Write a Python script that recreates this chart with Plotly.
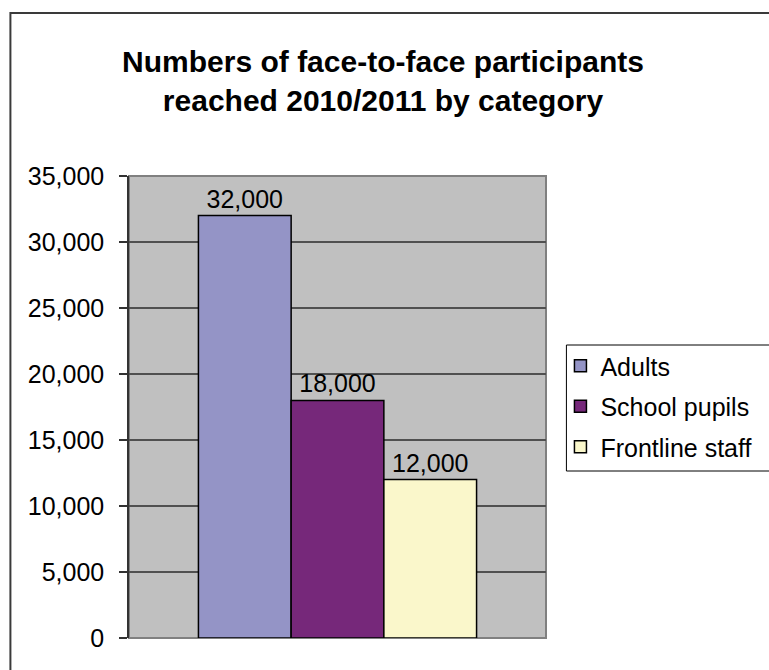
import plotly.graph_objects as go

# Data
categories = ["Adults", "School pupils", "Frontline staff"]
values = [32000, 18000, 12000]
colors = ["#9494C6", "#76287A", "#FAF7CB"]
group_label = ["2010/2011"]
y_ticks = [0, 5000, 10000, 15000, 20000, 25000, 30000, 35000]

W, H = 769, 670
L, R, T, B = 129, 211, 176, 32
pw, ph = W - L - R, H - T - B

fig = go.Figure()
for i, (name, v, c) in enumerate(zip(categories, values, colors)):
    fig.add_trace(go.Bar(
        x=group_label, y=[v], name=name,
        marker=dict(color=c, line=dict(color="black", width=1.5)),
        text=[v], texttemplate="%{y:,}", textposition="outside",
        textfont=dict(family="Liberation Sans, Arial", size=25, color="black"),
        cliponaxis=False, legendgroup=name,
    ))

def px_x(x):
    return (x - L) / pw

def px_y(y):
    return (H - B - y) / ph

fig.update_layout(
    width=W, height=H,
    margin=dict(l=L, r=R, t=T, b=B, pad=0),
    paper_bgcolor="white", plot_bgcolor="#C0C0C0",
    barmode="group", bargap=0.333, bargroupgap=0,
    font=dict(family="Liberation Sans, Arial", size=25, color="black"),
    title=dict(
        text="Numbers of face-to-face participants<br>reached 2010/2011 by category",
        font=dict(family="Liberation Sans, Arial", size=30, color="black", weight="bold"),
        x=383 / W, xanchor="center", xref="container",
        y=1 - 72 / H, yanchor="top", yref="container",
    ),
    legend=dict(
        x=px_x(578), y=px_y(343), xanchor="left", yanchor="top",
        bgcolor="rgba(0,0,0,0)", borderwidth=0,
        font=dict(family="Liberation Sans, Arial", size=25, color="black"),
        traceorder="grouped", tracegroupgap=5, indentation=-5,
    ),
    showlegend=True,
)
fig.update_xaxes(showticklabels=False, showgrid=False, zeroline=False,
                 showline=False, ticks="")
fig.update_yaxes(range=[0, 35000], tickvals=y_ticks, tickformat=",",
                 ticks="outside", ticklen=8, tickcolor="#333", tickwidth=1.5,
                 showline=True, linecolor="#333", linewidth=1.5,
                 showgrid=True, gridcolor="#505050", gridwidth=1.5,
                 zeroline=False, ticklabelstandoff=10,
                 tickfont=dict(family="Liberation Sans, Arial", size=25, color="black"))

# plot area border
fig.add_shape(type="rect", xref="paper", yref="paper", x0=0, x1=1, y0=0, y1=1,
              line=dict(color="#808080", width=2), fillcolor="rgba(0,0,0,0)",
              layer="between")
# legend box (extends past the right edge, as in the source)
fig.add_shape(type="rect", xref="paper", yref="paper",
              x0=px_x(579), x1=px_x(800), y0=px_y(471), y1=px_y(345),
              line=dict(color="black", width=1), fillcolor="white",
              layer="above")
# outer chart border
fig.add_shape(type="rect", xref="paper", yref="paper",
              x0=px_x(7), x1=px_x(790), y0=px_y(700), y1=px_y(13),
              line=dict(color="#3a3a3a", width=2), fillcolor="rgba(0,0,0,0)",
              layer="above")

fig.write_html("out.html")
